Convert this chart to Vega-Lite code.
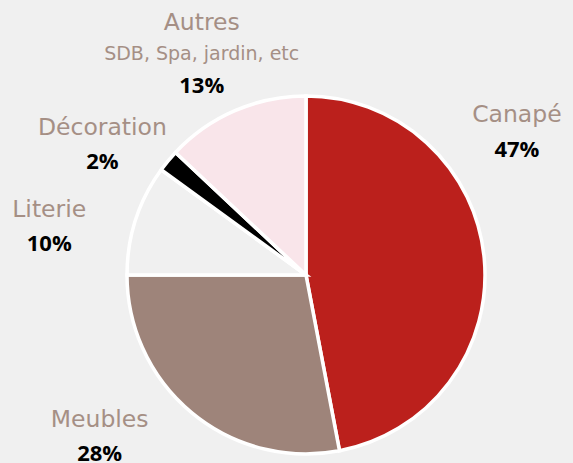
{
  "$schema": "https://vega.github.io/schema/vega-lite/v6.json",
  "width": 534,
  "height": 376,
  "autosize": {"type": "none"},
  "padding": {"left": 39, "top": 87, "right": 0, "bottom": 0},
  "background": "#f0f0f0",
  "config": {"view": {"stroke": null}},
  "data": {
    "values": [
      {"idx": 1, "cat": "Canapé", "value": 47, "pct": "47%", "sub": ""},
      {"idx": 2, "cat": "Meubles", "value": 28, "pct": "28%", "sub": ""},
      {"idx": 3, "cat": "Literie", "value": 10, "pct": "10%", "sub": ""},
      {"idx": 4, "cat": "Décoration", "value": 2, "pct": "2%", "sub": ""},
      {"idx": 5, "cat": "Autres", "value": 13, "pct": "13%", "sub": "SDB, Spa, jardin, etc"}
    ]
  },
  "encoding": {
    "theta": {"field": "value", "type": "quantitative", "stack": true, "scale": {"domain": [0, 100]}},
    "order": {"field": "idx", "type": "quantitative", "sort": "ascending"}
  },
  "layer": [
    {
      "mark": {"type": "arc", "outerRadius": 179, "stroke": "white", "strokeWidth": 3.5},
      "encoding": {
        "color": {
          "field": "cat",
          "type": "nominal",
          "scale": {
            "domain": ["Canapé", "Meubles", "Literie", "Décoration", "Autres"],
            "range": ["#bb201c", "#9e847a", "#f0f0f0", "#000000", "#f9e5ea"]
          },
          "legend": null
        }
      }
    },
    {
      "mark": {
        "type": "text",
        "radius": 250,
        "font": "DejaVu Sans",
        "fontWeight": "normal",
        "fontSize": 23.5,
        "fill": "#a58f85",
        "align": "center",
        "baseline": "alphabetic",
        "dx": {"expr": "datum.cat==='Canapé'?-38:datum.cat==='Meubles'?-47:datum.cat==='Literie'?-19:datum.cat==='Décoration'?-11:-5"},
        "dy": {"expr": "datum.cat==='Canapé'?-129:datum.cat==='Meubles'?-41:datum.cat==='Literie'?19:datum.cat==='Décoration'?19:-16"}
      },
      "encoding": {"text": {"field": "cat", "type": "nominal"}}
    },
    {
      "mark": {
        "type": "text",
        "radius": 250,
        "font": "DejaVu Sans",
        "fontWeight": "normal",
        "fontSize": 19,
        "fill": "#a58f85",
        "align": "center",
        "baseline": "alphabetic",
        "dx": -5,
        "dy": 14
      },
      "encoding": {"text": {"field": "sub", "type": "nominal"}}
    },
    {
      "mark": {
        "type": "text",
        "radius": 250,
        "font": "Open Sans",
        "fontWeight": "bold",
        "fontSize": 22,
        "fill": "#000000",
        "align": "center",
        "baseline": "alphabetic",
        "dx": {"expr": "datum.cat==='Canapé'?-38:datum.cat==='Meubles'?-47:datum.cat==='Literie'?-19:datum.cat==='Décoration'?-11:-5"},
        "dy": {"expr": "datum.cat==='Canapé'?-94:datum.cat==='Meubles'?-7:datum.cat==='Literie'?53:datum.cat==='Décoration'?53:47"}
      },
      "encoding": {"text": {"field": "pct", "type": "nominal"}}
    }
  ]
}
